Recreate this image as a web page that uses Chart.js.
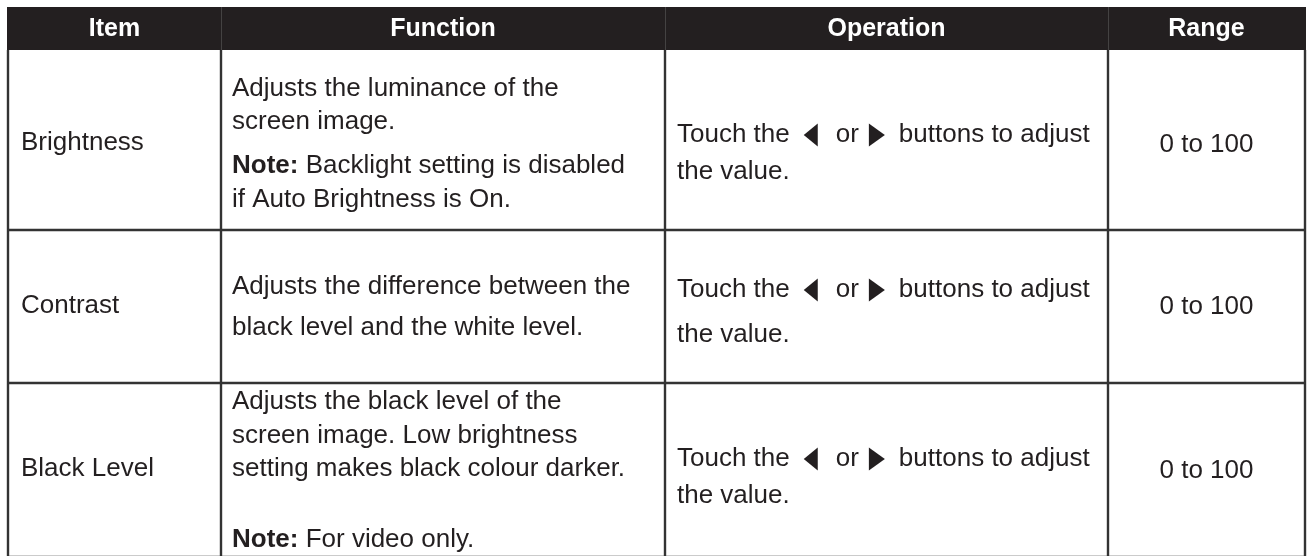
<!DOCTYPE html>
<html>
<head>
<meta charset="utf-8">
<script src="https://cdn.jsdelivr.net/npm/chart.js@4.4.1/dist/chart.umd.min.js"></script>
<style>
  html, body { margin: 0; padding: 0; background: #fff; }
  #wrap { width: 1307px; height: 556px; }
  .probe { position: absolute; left: -9999px; font-family: 'Liberation Sans'; }
</style>
</head>
<body>
<span class="probe">Aa <b>Bb</b></span>
<div id="wrap"><canvas id="settingsTable"></canvas></div>
<script>
// table content
const columns = ['Item', 'Function', 'Operation', 'Range'];
const items = ['Brightness', 'Contrast', 'Black Level'];
const functionLines = [
    ['Adjusts the luminance of the', 'screen image.', 'Note: Backlight setting is disabled', 'if Auto Brightness is On.'],
    ['Adjusts the difference between the', 'black level and the white level.'],
    ['Adjusts the black level of the', 'screen image. Low brightness', 'setting makes black colour darker.', 'Note: For video only.']
];
const operationLines = [
    ['Touch the ◀ or ▶ buttons to adjust', 'the value.'],
    ['Touch the ◀ or ▶ buttons to adjust', 'the value.'],
    ['Touch the ◀ or ▶ buttons to adjust', 'the value.']
];
const ranges = ['0 to 100', '0 to 100', '0 to 100'];

// layout, in scale units (1 unit = 1 px of the page)
const grid = {
    cols: [8, 221, 665, 1108, 1305],
    rows: [7, 50, 230, 383, 557],
    padLeft: [13, 11, 12],
    itemY: [143, 306, 469],
    funcY: [[89, 122, 166, 200], [287, 328], [402, 436, 469, 540]],
    opY: [[135, 172], [290, 335], [459, 496]],
    rangeY: [145, 307, 471]
};

const INK = '#231f20';
const FAMILY = '"Liberation Sans", Arial, Helvetica, sans-serif';
const BODY_FONT = '26px ' + FAMILY;
const BOLD_FONT = 'bold 26px ' + FAMILY;
const HEAD_FONT = 'bold 25px ' + FAMILY;

// draws a line of text, with a bold "Note:" and the arrow buttons as triangles
function drawRichLine(ctx, str, x, y) {
    ctx.textBaseline = 'middle';
    ctx.textAlign = 'left';
    let cx = x;
    if (str.startsWith('Note:')) {
        ctx.font = BOLD_FONT;
        ctx.fillText('Note:', cx, y);
        cx += ctx.measureText('Note: ').width;
        str = str.slice(6);
    }
    ctx.font = BODY_FONT;
    const parts = str.split(/([◀▶])/);
    parts.forEach(p => {
        if (p === '◀' || p === '▶') {
            const w = 14, h = 23;
            cx += (p === '◀') ? 14 : 10;
            ctx.beginPath();
            if (p === '◀') {
                ctx.moveTo(cx, y);
                ctx.lineTo(cx + w, y - h / 2);
                ctx.lineTo(cx + w, y + h / 2);
            } else {
                ctx.moveTo(cx, y - h / 2);
                ctx.lineTo(cx + w + 2, y);
                ctx.lineTo(cx, y + h / 2);
            }
            ctx.closePath();
            ctx.fill();
            cx += w + ((p === '◀') ? 18 : 16);
        } else {
            const t = p.trim();
            if (!t) return;
            ctx.fillText(t, cx, y);
            cx += ctx.measureText(t).width;
        }
    });
}

const tablePlugin = {
    id: 'tableCells',
    afterDraw(chart) {
        const { ctx, scales: { x, y } } = chart;
        const X = v => x.getPixelForValue(v);
        const Y = v => y.getPixelForValue(v);
        const c = grid.cols, r = grid.rows;
        ctx.save();

        // header band
        ctx.fillStyle = INK;
        ctx.fillRect(X(c[0]) - 1, Y(r[0]), X(c[4]) - X(c[0]) + 2, Y(r[1]) - Y(r[0]));
        ctx.strokeStyle = 'rgba(90,90,90,0.6)';
        ctx.lineWidth = 1;
        for (let i = 1; i < c.length - 1; i++) {
            ctx.beginPath();
            ctx.moveTo(X(c[i]) + 0.5, Y(r[0]));
            ctx.lineTo(X(c[i]) + 0.5, Y(r[1]));
            ctx.stroke();
        }

        // body grid
        ctx.strokeStyle = '#333333';
        ctx.lineWidth = 2.4;
        c.forEach(v => {
            ctx.beginPath();
            ctx.moveTo(X(v), Y(r[1]));
            ctx.lineTo(X(v), Y(r[r.length - 1]));
            ctx.stroke();
        });
        r.slice(2).forEach(v => {
            ctx.beginPath();
            ctx.moveTo(X(c[0]) - 1, Y(v));
            ctx.lineTo(X(c[4]) + 1, Y(v));
            ctx.stroke();
        });

        // header labels
        ctx.fillStyle = '#ffffff';
        ctx.font = HEAD_FONT;
        ctx.textAlign = 'center';
        ctx.textBaseline = 'middle';
        columns.forEach((name, i) => {
            ctx.fillText(name, (X(c[i]) + X(c[i + 1])) / 2, (Y(r[0]) + Y(r[1])) / 2 + 1);
        });

        // body cells
        ctx.fillStyle = INK;
        items.forEach((item, i) => {
            ctx.font = BODY_FONT;
            ctx.textAlign = 'left';
            ctx.textBaseline = 'middle';
            ctx.fillText(item, X(c[0] + grid.padLeft[0]), Y(grid.itemY[i]));

            functionLines[i].forEach((line, j) => {
                drawRichLine(ctx, line, X(c[1] + grid.padLeft[1]), Y(grid.funcY[i][j]));
            });
            operationLines[i].forEach((line, j) => {
                drawRichLine(ctx, line, X(c[2] + grid.padLeft[2]), Y(grid.opY[i][j]));
            });

            ctx.font = BODY_FONT;
            ctx.textAlign = 'center';
            ctx.textBaseline = 'middle';
            ctx.fillText(ranges[i], (X(c[3]) + X(c[4])) / 2, Y(grid.rangeY[i]));
        });

        ctx.restore();
    }
};

function build() {
    new Chart(document.getElementById('settingsTable'), {
        type: 'scatter',
        data: { datasets: [] },
        options: {
            responsive: true,
            maintainAspectRatio: false,
            animation: false,
            events: [],
            layout: { padding: 0 },
            plugins: { legend: { display: false }, tooltip: { enabled: false } },
            scales: {
                x: { type: 'linear', min: 0, max: 1307, display: false },
                y: { type: 'linear', min: 0, max: 556, reverse: true, display: false }
            }
        },
        plugins: [tablePlugin]
    });
}

Promise.all([
    document.fonts.load(BODY_FONT),
    document.fonts.load(BOLD_FONT)
]).then(build, build);
</script>
</body>
</html>
